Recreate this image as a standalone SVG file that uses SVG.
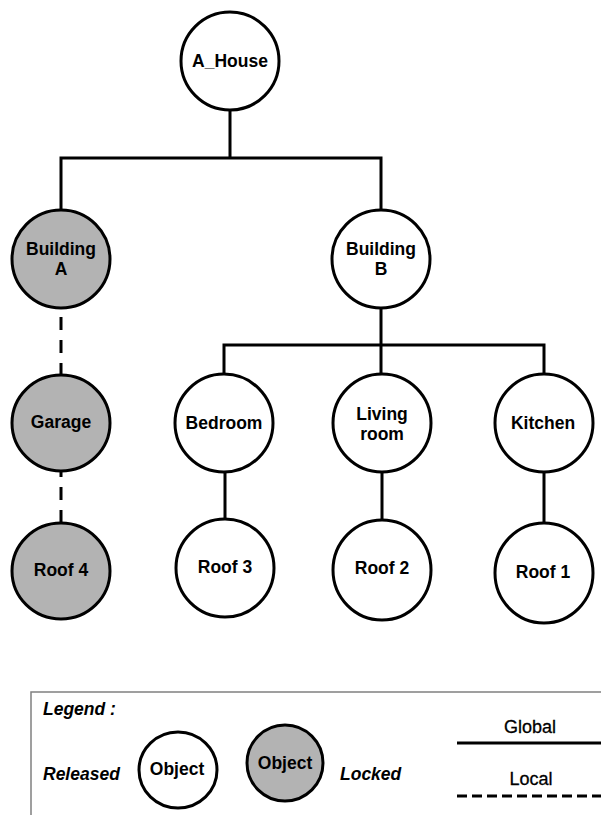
<svg xmlns="http://www.w3.org/2000/svg" width="601" height="815" viewBox="0 0 601 815">
  <style>
    .node { stroke: #000; stroke-width: 3; fill: #fff; }
    .locked { fill: #b3b3b3; }
    .lbl { font-family: "Liberation Sans", Arial, sans-serif; font-weight: bold; font-size: 17.5px; text-anchor: middle; fill: #000; }
    .global { stroke: #000; stroke-width: 3; fill: none; }
    .local { stroke: #000; stroke-width: 3; fill: none; stroke-dasharray: 13 10; }
    .leg { font-family: "Liberation Sans", Arial, sans-serif; font-size: 17.5px; fill: #000; }
    .it { font-style: italic; font-weight: bold; }
    .key { font-size: 18px; stroke: #000; stroke-width: 0.3; }
  </style>
  <rect width="601" height="815" fill="#fff"/>

  <g id="connectors">
    <path class="global" d="M230 110 V158 M61 210 V158 H381 V210"/>
    <path class="global" d="M381 308 V374 M224 374 V345 H544 V374"/>
    <path class="global" d="M225 472 V519 M382 472 V520 M544 472 V523"/>
    <line class="local" x1="61" y1="317" x2="61" y2="376"/>
    <line class="local" x1="61" y1="464" x2="61" y2="523"/>
  </g>

  <g id="A_House">
    <ellipse class="node" cx="230" cy="61" rx="49" ry="49"/>
    <text class="lbl" x="230" y="67">A_House</text>
  </g>
  <g id="BuildingA">
    <ellipse class="node locked" cx="61" cy="259" rx="49" ry="49"/>
    <text class="lbl" x="61" y="255">Building</text>
    <text class="lbl" x="61" y="275">A</text>
  </g>
  <g id="BuildingB">
    <ellipse class="node" cx="381" cy="259" rx="49" ry="49"/>
    <text class="lbl" x="381" y="255">Building</text>
    <text class="lbl" x="381" y="275">B</text>
  </g>
  <g id="Garage">
    <ellipse class="node locked" cx="61" cy="423" rx="49" ry="48"/>
    <text class="lbl" x="61" y="428">Garage</text>
  </g>
  <g id="Bedroom">
    <ellipse class="node" cx="224" cy="423" rx="49" ry="49"/>
    <text class="lbl" x="224" y="429">Bedroom</text>
  </g>
  <g id="LivingRoom">
    <ellipse class="node" cx="382" cy="423" rx="49" ry="49"/>
    <text class="lbl" x="382" y="420">Living</text>
    <text class="lbl" x="382" y="440">room</text>
  </g>
  <g id="Kitchen">
    <ellipse class="node" cx="544" cy="423" rx="49" ry="49"/>
    <text class="lbl" x="543" y="429">Kitchen</text>
  </g>
  <g id="Roof4">
    <ellipse class="node locked" cx="61" cy="571" rx="49" ry="48"/>
    <text class="lbl" x="61" y="576">Roof 4</text>
  </g>
  <g id="Roof3">
    <ellipse class="node" cx="225" cy="568" rx="49" ry="49"/>
    <text class="lbl" x="225" y="573">Roof 3</text>
  </g>
  <g id="Roof2">
    <ellipse class="node" cx="382" cy="570" rx="49" ry="50"/>
    <text class="lbl" x="382" y="574">Roof 2</text>
  </g>
  <g id="Roof1">
    <ellipse class="node" cx="544" cy="573" rx="49" ry="50"/>
    <text class="lbl" x="543" y="578">Roof 1</text>
  </g>

  <g id="legend">
    <rect x="31" y="692" width="600" height="200" fill="none" stroke="#808080" stroke-width="1.5"/>
    <text class="leg it" x="43" y="715">Legend :</text>
    <text class="leg it" x="43" y="780">Released</text>
    <ellipse class="node" cx="178" cy="770" rx="39" ry="38"/>
    <text class="lbl" x="177" y="775" style="font-size:17.5px">Object</text>
    <ellipse class="node locked" cx="285" cy="763" rx="38" ry="38"/>
    <text class="lbl" x="285" y="769" style="font-size:17.5px">Object</text>
    <text class="leg it" x="340" y="780">Locked</text>
    <text class="leg key" x="530" y="733" text-anchor="middle">Global</text>
    <line class="global" x1="457" y1="743" x2="601" y2="743"/>
    <text class="leg key" x="531" y="785" text-anchor="middle">Local</text>
    <line x1="457" y1="796" x2="601" y2="796" stroke="#000" stroke-width="3" stroke-dasharray="10 5"/>
  </g>
</svg>
